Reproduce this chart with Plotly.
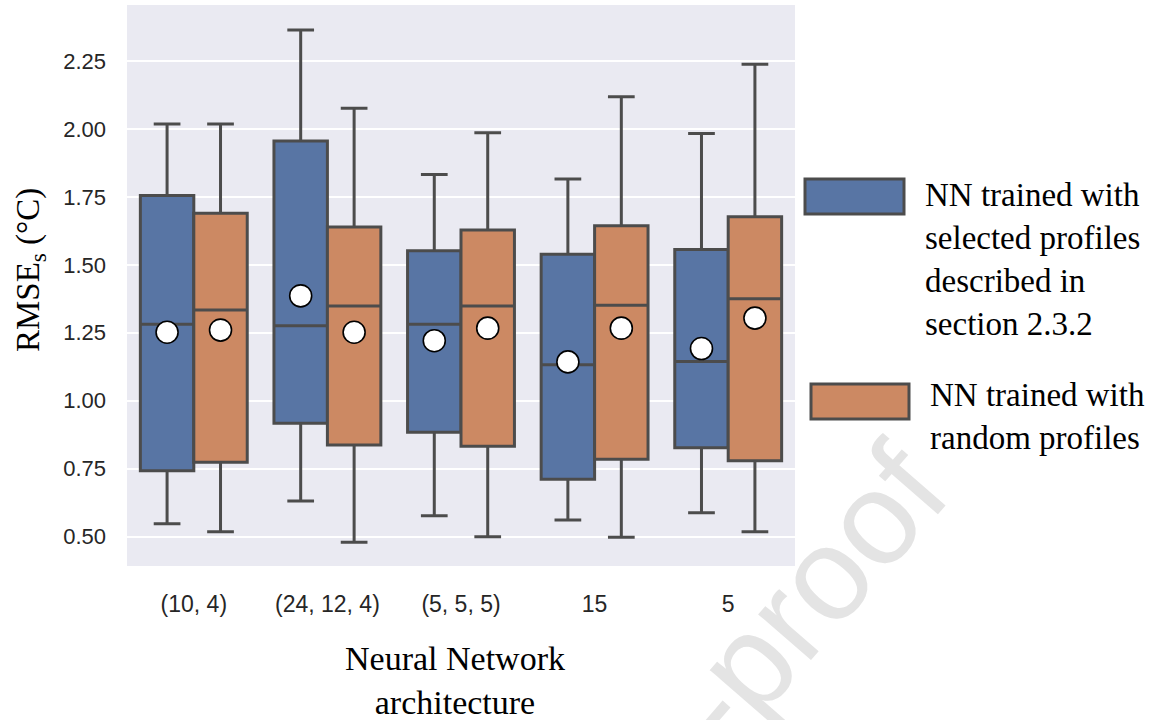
import plotly.graph_objects as go

# ---- data ----
categories = ["(10, 4)", "(24, 12, 4)", "(5, 5, 5)", "15", "5"]

sel_upper = [2.018, 2.364, 1.832, 1.816, 1.983]
sel_q3 = [1.755, 1.956, 1.552, 1.539, 1.556]
sel_median = [1.281, 1.276, 1.281, 1.132, 1.144]
sel_q1 = [0.742, 0.917, 0.884, 0.711, 0.827]
sel_lower = [0.547, 0.631, 0.577, 0.561, 0.588]
sel_mean = [1.252, 1.386, 1.221, 1.143, 1.192]

rnd_upper = [2.018, 2.076, 1.986, 2.118, 2.238]
rnd_q3 = [1.690, 1.639, 1.628, 1.644, 1.677]
rnd_median = [1.334, 1.349, 1.349, 1.351, 1.375]
rnd_q1 = [0.774, 0.837, 0.833, 0.785, 0.779]
rnd_lower = [0.518, 0.479, 0.500, 0.498, 0.518]
rnd_mean = [1.260, 1.252, 1.267, 1.267, 1.304]

y_ticks = [0.5, 0.75, 1.0, 1.25, 1.5, 1.75, 2.0, 2.25]
y_tick_text = ["0.50", "0.75", "1.00", "1.25", "1.50", "1.75", "2.00", "2.25"]

legend_sel = "NN trained with<br>selected profiles<br>described in<br>section 2.3.2"
legend_rnd = "NN trained with<br>random profiles"
y_title = "RMSE<sub>s</sub> (°C)"
x_title = "Neural Network<br>architecture"
watermark = "Journal Pre-proof"

# ---- style ----
BLUE = "#5875a4"
ORANGE = "#cc8963"
EDGE = "#4c4c4c"
SERIF = "Liberation Serif, Times New Roman, serif"
SANS = "Liberation Sans, Arial, sans-serif"

W, H = 1167, 720
L, R, T, B = 127, 795, 5, 566


def px(x):
    return (x - L) / (R - L)


def py(y):
    return (B - y) / (B - T)


fig = go.Figure()

for name, col, grp, lo, q1, med, q3, up in [
    ("sel", BLUE, "a", sel_lower, sel_q1, sel_median, sel_q3, sel_upper),
    ("rnd", ORANGE, "b", rnd_lower, rnd_q1, rnd_median, rnd_q3, rnd_upper),
]:
    fig.add_trace(go.Box(
        x=categories, q1=q1, median=med, q3=q3, lowerfence=lo, upperfence=up,
        name=name, offsetgroup=grp, fillcolor=col,
        line=dict(color=EDGE, width=3), whiskerwidth=0.5,
        boxpoints=False, showlegend=False, hoverinfo="skip",
    ))

for grp, means in [("a", sel_mean), ("b", rnd_mean)]:
    fig.add_trace(go.Scatter(
        x=categories, y=means, mode="markers", offsetgroup=grp,
        marker=dict(color="white", size=22, line=dict(color="black", width=1.6)),
        showlegend=False, hoverinfo="skip",
    ))

shapes = [
    dict(type="rect", xref="paper", yref="paper",
         x0=px(805), x1=px(904), y0=py(214), y1=py(179),
         fillcolor=BLUE, line=dict(color=EDGE, width=3)),
    dict(type="rect", xref="paper", yref="paper",
         x0=px(811), x1=px(909), y0=py(419), y1=py(384),
         fillcolor=ORANGE, line=dict(color=EDGE, width=3)),
]

annotations = [
    dict(text=watermark, xref="paper", yref="paper", x=px(585), y=py(850),
         xanchor="center", yanchor="middle", textangle=-49, showarrow=False,
         font=dict(family=SANS, size=132, color="#e4e4e4")),
    dict(text=legend_sel, xref="paper", yref="paper", x=px(923), y=py(259),
         xanchor="left", yanchor="middle", align="left", showarrow=False,
         font=dict(family=SERIF, size=33, color="black")),
    dict(text=legend_rnd, xref="paper", yref="paper", x=px(928), y=py(416),
         xanchor="left", yanchor="middle", align="left", showarrow=False,
         font=dict(family=SERIF, size=33, color="black")),
    dict(text=y_title, xref="paper", yref="paper", x=px(30), y=py(270),
         xanchor="center", yanchor="middle", textangle=-90, showarrow=False,
         font=dict(family=SERIF, size=33, color="black")),
    dict(text=x_title, xref="paper", yref="paper", x=px(455), y=py(680),
         xanchor="center", yanchor="middle", align="center", showarrow=False,
         font=dict(family=SERIF, size=34, color="black")),
]

fig.update_layout(
    width=W, height=H,
    margin=dict(l=L, r=W - R, t=T, b=H - B),
    paper_bgcolor="rgba(0,0,0,0)", plot_bgcolor="#eaeaf2",
    boxmode="group", boxgap=0.2, boxgroupgap=0.0,
    scattermode="group", scattergap=0.2,
    shapes=shapes, annotations=annotations,
    showlegend=False,
    xaxis=dict(showgrid=False, zeroline=False, showline=False, ticks="",
               ticklabelstandoff=22,
               tickfont=dict(family=SANS, size=23, color="#262626")),
    yaxis=dict(range=[0.392, 2.456], tickvals=y_ticks, ticktext=y_tick_text,
               showgrid=True, gridcolor="white", gridwidth=1.6,
               zeroline=False, showline=False, ticks="",
               ticklabelstandoff=20,
               tickfont=dict(family=SANS, size=22, color="#262626")),
)

fig.write_html(
    "out.html",
    config={"displayModeBar": False},
    post_script="document.body.style.margin='0';document.body.style.overflow='hidden';",
)
